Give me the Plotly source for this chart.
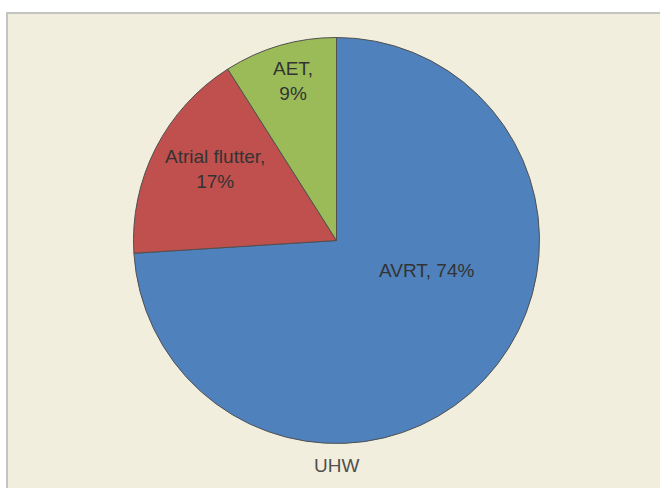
import plotly.graph_objects as go

categories = ["AVRT", "Atrial flutter", "AET"]
values = [74, 17, 9]
colors = ["#4F81BD", "#C0504D", "#9BBB59"]
title_text = "UHW"

W, H = 660, 488
cx, cy, r = 336.5, 240.5, 203

fig = go.Figure(go.Pie(
    labels=categories,
    values=values,
    sort=False,
    direction="clockwise",
    rotation=0,
    marker=dict(colors=colors, line=dict(color="#505050", width=1)),
    textinfo="none",
    hoverinfo="label+percent",
    domain=dict(x=[(cx - r) / W, (cx + r) / W], y=[(H - cy - r) / H, (H - cy + r) / H]),
    showlegend=False,
))

# label texts built from data
label_text = [f"{c}, {v}%" for c, v in zip(categories, values)]
label_text[1] = f"{categories[1]},<br>{values[1]}%"
label_text[2] = f"{categories[2]},<br>{values[2]}%"
label_pos = [(427, 270), (215, 169), (293, 81)]

FONT = "Arial, Liberation Sans, sans-serif"
annotations = []
for t, (px, py) in zip(label_text, label_pos):
    annotations.append(dict(
        text=t, x=px / W, y=1 - py / H, xref="paper", yref="paper",
        showarrow=False, font=dict(family=FONT, size=19, color="#333333"),
        align="center", xanchor="center", yanchor="middle"))
annotations.append(dict(
    text=title_text, x=cx / W, y=1 - 465 / H, xref="paper", yref="paper",
    showarrow=False, font=dict(family=FONT, size=19, color="#505050"),
    xanchor="center", yanchor="middle"))

fig.update_layout(
    width=W, height=H,
    margin=dict(l=0, r=0, t=0, b=0),
    paper_bgcolor="white",
    annotations=annotations,
    shapes=[dict(type="rect", xref="paper", yref="paper", layer="below",
                 x0=7 / W, x1=1.02, y0=-0.02, y1=1 - 13 / H,
                 fillcolor="#F2EEDD", line=dict(color="#C4C4C0", width=2))],
)

fig.write_html("out.html", config={"displayModeBar": False},
               post_script="document.body.style.margin='0';document.body.style.overflow='hidden';")
